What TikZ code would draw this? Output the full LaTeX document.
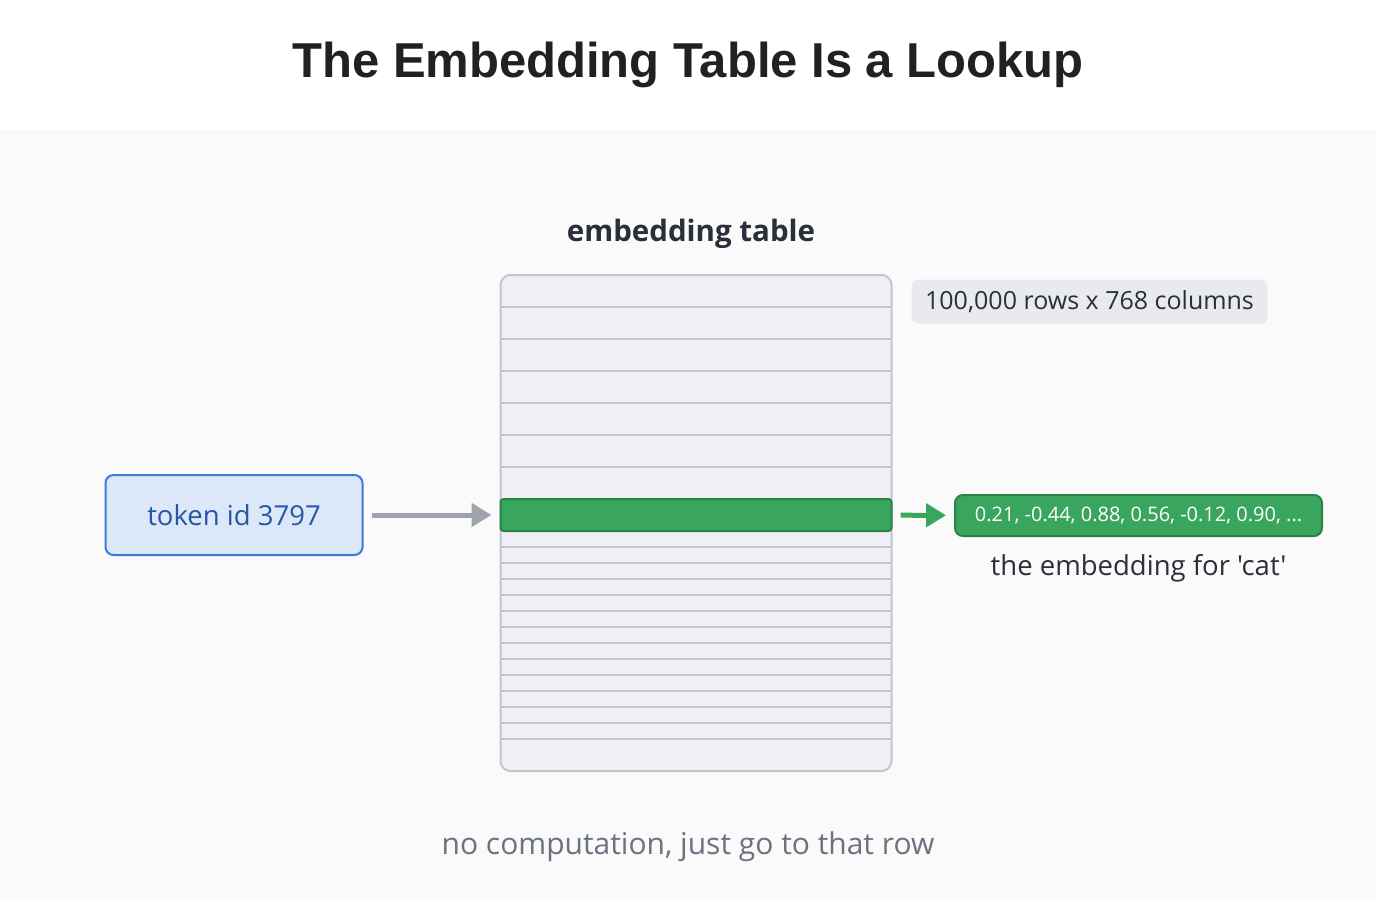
\documentclass[tikz,border=0pt]{standalone}
\usepackage{fontspec}
\setmainfont{Open Sans}[Ligatures=TeXOff]
\newfontfamily\titlefont{Liberation Sans}
\usetikzlibrary{arrows.meta,positioning}
\definecolor{bgpanel}{HTML}{FAFAFA}
\definecolor{tablefill}{HTML}{EEF0F5}
\definecolor{tableline}{HTML}{C2C5CD}
\definecolor{hitgreen}{HTML}{3AA55D}
\definecolor{hitdark}{HTML}{2B8446}
\definecolor{tokfill}{HTML}{DCE7F8}
\definecolor{tokdraw}{HTML}{3D7BDB}
\definecolor{toktext}{HTML}{2557A6}
\definecolor{arrowgray}{HTML}{9EA3AE}
\definecolor{darktext}{HTML}{2A2F3A}
\definecolor{softtext}{HTML}{6B7280}
\definecolor{tagfill}{HTML}{E8EAEF}
\tikzset{
  tablebox/.style={draw=tableline, line width=2pt, fill=tablefill, rounded corners=10pt,
    minimum width=391pt, minimum height=496pt, inner sep=0pt},
  rowline/.style={draw=tableline, line width=2.5pt},
  hitrow/.style={draw=hitdark, line width=2pt, fill=hitgreen, rounded corners=3pt,
    minimum width=391pt, minimum height=32pt, inner sep=0pt},
  tokbox/.style={draw=tokdraw, line width=2pt, fill=tokfill, rounded corners=8pt,
    minimum width=257pt, minimum height=80pt, text=toktext, font=\fontsize{27.5}{32}\selectfont},
  vecbox/.style={draw=hitdark, line width=2pt, fill=hitgreen, rounded corners=8pt,
    minimum width=367pt, minimum height=41pt, text=white, font=\fontsize{20}{24}\selectfont},
  tagbox/.style={fill=tagfill, rounded corners=6pt, minimum width=356pt, minimum height=44pt,
    text=darktext, font=\fontsize{25}{30}\selectfont},
  lookup/.style={line width=5pt, -{Triangle[length=20pt,width=23pt]}, shorten <=8pt, shorten >=8pt}
}
\begin{document}
\begin{tikzpicture}[x=1pt, y=-1pt]
  \useasboundingbox (0,0) rectangle (1376,899);
  \fill[white] (0,0) rectangle (1376,899);
  \fill[bgpanel] (0,130) rectangle (1376,899);
  \node[text=black!87, font=\titlefont\bfseries\fontsize{49}{58}\selectfont] (title) at (688,65) {The Embedding Table Is a Lookup};
  % the table and its rows
  \node[tablebox] (table) at (696,523) {};
  \node[text=darktext, font=\bfseries\fontsize{29.5}{35}\selectfont] (tabletitle) at (691,234) {embedding table};
  \foreach \y in {307,339,...,467} \draw[rowline] (501,\y) -- (891,\y);
  \foreach \y in {547,563,...,739} \draw[rowline] (501,\y) -- (891,\y);
  \node[hitrow] (hit) at (696,515) {};
  \node[tagbox] (size) at (1089.5,301.5) {100,000 rows x 768 columns};
  % input and output
  \node[tokbox] (tok) at (234,515) {token id 3797};
  \node[vecbox] (vec) at (1138.5,515.5) {0.21, -0.44, 0.88, 0.56, -0.12, 0.90, ...};
  \node[text=darktext, font=\fontsize{27.5}{32}\selectfont, below=14pt of vec] (cat) {the embedding for 'cat'};
  \draw[lookup, draw=arrowgray, fill=arrowgray] (tok) -- (hit);
  \draw[lookup, draw=hitgreen, fill=hitgreen] (hit) -- (vec);
  \node[text=softtext, font=\fontsize{30}{36}\selectfont] (note) at (688,847) {no computation, just go to that row};
\end{tikzpicture}
\end{document}
